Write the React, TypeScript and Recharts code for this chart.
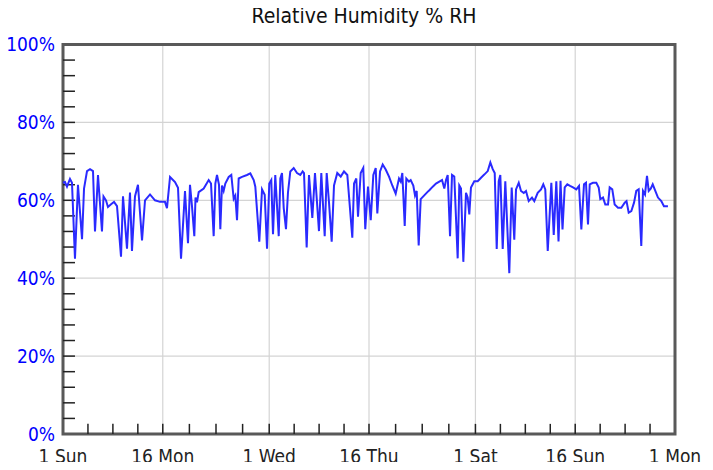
import { LineChart, Line, XAxis, YAxis, CartesianGrid, ReferenceLine, ReferenceArea } from "recharts";

// days since 1 Jul
const dayOffsets = [
  0, 0.3, 0.6, 1.05, 1.35, 1.8, 2.25, 2.86, 3.16, 3.61, 4.06, 4.51, 4.81, 5.26, 5.86, 6.09, 6.46, 6.76, 7.22, 7.67,
  8.12, 8.72, 9.02, 9.62, 10.07, 10.37, 10.82, 11.27, 11.88, 12.33, 13.08, 13.83, 14.58, 15.33, 15.63, 16.09, 16.84, 17.29, 17.74,
  18.34, 18.79, 19.09, 19.39, 19.74, 19.92, 20.14, 20.4, 21.15, 21.9, 22.25, 22.65, 22.9, 23.15, 23.45, 23.65, 23.9, 24.15, 24.4,
  24.91, 25.3, 25.66, 25.9, 26.16, 26.41, 26.91, 27.66, 28.16, 28.67, 28.91, 29.51, 29.92, 30.32, 30.67, 31.01, 31.31, 31.57,
  31.91, 32.43, 32.67, 32.92, 33.18, 33.52, 33.82, 34.17, 34.68, 35.18, 35.67, 36.03, 36.23, 36.63,
  36.98, 37.48, 37.88, 38.48, 38.83, 39.34, 39.64, 39.99, 40.39, 40.74, 41.23, 41.75, 42.24, 42.74, 43.49, 43.75, 44.09, 44.35,
  44.75, 45.14, 45.44, 45.85, 46.26, 46.65, 47.01, 47.25, 47.66, 48.06, 48.51, 49.01, 49.5, 50.01, 50.51, 50.77, 51.01, 51.37,
  51.61, 52.01, 52.27, 52.66, 52.92, 53.17, 53.47, 53.77, 54.27, 54.77,
  55.07, 55.58, 56.07, 56.57, 56.98, 57.32, 57.58, 57.83, 58.18, 58.48, 58.82, 59.33, 59.57, 59.83, 60.18, 60.58, 60.83, 61.08,
  61.33, 61.83, 62.34, 62.84, 63.33, 63.85, 64.24, 64.6, 64.9, 65.2, 65.5, 65.74, 66.1, 66.49, 67.09, 67.45, 67.84, 68.1, 68.51,
  68.85, 69.26, 69.6, 70.01, 70.5, 70.85, 71.36, 71.86, 72.2, 72.5, 72.87,
  73.41, 73.77, 74.16, 74.49, 74.79, 75.09, 75.42, 75.81, 76.22, 76.67, 77.16, 77.57, 77.92, 78.32, 78.62, 78.92, 79.18, 79.67,
  80.17, 80.53, 80.77, 81.18, 81.52, 81.93, 82.18, 82.57, 82.93, 83.43, 83.93, 84.44, 84.71, 85.04, 85.43, 85.84, 86.18, 86.54,
  86.93, 87.19, 87.49, 87.79, 88.05, 88.35, 88.65, 89.04, 89.44, 89.94, 90.34, 90.94,
];

// % RH
const humidity = [
  64.5, 64.7, 63.5, 65.5, 64.5, 45, 64, 50, 63, 67.5, 68, 67.5, 52, 66.5, 52, 61, 60, 58.3, 59, 59.6,
  58.5, 45.5, 61, 47.6, 62, 47, 61, 64, 49.7, 60, 61.5, 60, 59.6, 59.6, 58, 66, 64.7, 63.2, 45,
  62.4, 49, 64, 58.5, 50.8, 60.7, 59.5, 62.1, 63, 65.2, 64.3, 50.8, 64.3, 66.5, 64, 52.6, 63.8, 62.4, 64.3,
  66, 66.5, 60.4, 61.2, 54.9, 65.6, 66, 66.5, 66.9, 65.2, 63.5, 49.4, 62.8, 61.4, 47.6, 64.3, 65.2, 51.3,
  66.5, 50.8, 65.6, 67, 58, 52.6, 62, 67.4, 68.3, 67, 66.5, 67.4, 67, 47.9,
  66.5, 55.5, 67, 52.1, 67, 50.8, 67, 59.4, 49.4, 63.8, 67, 66.1, 67.4, 66.5, 50.4, 64.3, 65.6, 55.8,
  67, 68.3, 52.6, 63.5, 54.9, 66.5, 68.3, 56.6, 67.4, 69.2, 67.9, 66.1, 63.8, 61.7, 65.6, 64.8, 67, 53.4,
  65.6, 64.8, 65.2, 63.8, 61.2, 62.4, 48.4, 60.3, 61.2, 62.1,
  62.6, 63.5, 64.3, 64.8, 65.2, 63, 65.2, 66.5, 50.8, 66.5, 66.1, 45.1, 63.8, 63, 44.2, 61.9, 60.7, 56.4,
  63.3, 64.9, 64.9, 65.8, 66.6, 67.5, 69.7, 68, 67, 47.5, 64.9, 66.5, 47.5, 64.9, 41.3, 63.3, 49.9, 62.8, 64.5,
  62.4, 61.9, 62.4, 59.8, 60.7, 59.8, 61.9, 62.8, 64.1, 62.8, 47,
  64.5, 51.1, 64.9, 49.4, 65, 52.5, 63.3, 64.1, 63.7, 63.3, 62.8, 63.7, 52.5, 64.1, 64.5, 53.8, 64.1, 64.5,
  64.5, 63.3, 60.3, 60.7, 58.9, 58.9, 63.3, 62.8, 58.9, 58.1, 58.1, 59.4, 59.8, 56.8, 57.2, 59.4, 62.4, 62.8,
  48.3, 62.4, 61.5, 66.3, 62.4, 63, 64.1, 62.4, 60.7, 59.8, 58.5, 58.5,
];

const xMajorTicks = [0, 15, 31, 46, 62, 77, 92];
const xTickLabels = ["1 Sun", "16 Mon", "1 Wed", "16 Thu", "1 Sat", "16 Sun", "1 Mon"];
const xMinorTicks = [
  3.75, 7.5, 11.25, 15, 19, 23, 27, 31, 34.75, 38.5, 42.25, 46, 50, 54, 58, 62, 65.75, 69.5, 73.25, 77, 80.75, 84.5, 88.25,
];
const yMajorTicks = [0, 20, 40, 60, 80, 100];
const yMinorTicks = [4, 8, 12, 16, 20, 24, 28, 32, 36, 40, 44, 48, 52, 56, 60, 64, 68, 72, 76, 80, 84, 88, 92, 96];

const data = dayOffsets.map((t, i) => ({ t, rh: humidity[i] }));

const FONT = "'DejaVu Sans Condensed', 'DejaVu Sans', sans-serif";

export default function App() {
  return (
    <div style={{ position: "relative", width: 713, height: 470, margin: -8, fontFamily: FONT, background: "#fff" }}>
      <div
        style={{
          position: "absolute",
          top: 4,
          left: 264,
          width: 200,
          fontSize: 21,
          color: "#111",
          whiteSpace: "nowrap",
          display: "flex",
          justifyContent: "center",
        }}
      >
        Relative Humidity % RH
      </div>
      <LineChart width={713} height={470} data={data} margin={{ top: 44.5, right: 38, bottom: 0, left: 0 }}>
        <CartesianGrid stroke="#d4d4d4" strokeWidth={1.2} />
        <XAxis
          dataKey="t"
          type="number"
          domain={[0, 92]}
          ticks={xMajorTicks}
          interval={0}
          height={36}
          tickSize={0}
          tickMargin={16}
          axisLine={false}
          tickFormatter={(v: number) => xTickLabels[xMajorTicks.indexOf(v)]}
          tick={{ fill: "#222", fontSize: 19, fontFamily: FONT }}
        />
        <YAxis
          type="number"
          domain={[0, 100]}
          ticks={yMajorTicks}
          interval={0}
          width={63}
          tickSize={0}
          tickMargin={8}
          axisLine={false}
          tickFormatter={(v: number) => `${v}%`}
          tick={{ fill: "#0000ff", fontSize: 19, fontFamily: FONT }}
        />
        {xMinorTicks.map((d) => (
          <ReferenceLine
            key={`xt${d}`}
            segment={[{ x: d, y: 0 }, { x: d, y: 2.6 }]}
            stroke="#222"
            strokeWidth={1.5}
            ifOverflow="visible"
          />
        ))}
        {yMinorTicks.map((v) => (
          <ReferenceLine
            key={`yt${v}`}
            segment={[{ x: 0, y: v }, { x: 1.8, y: v }]}
            stroke="#222"
            strokeWidth={1.5}
            ifOverflow="visible"
          />
        ))}
        <Line
          type="linear"
          dataKey="rh"
          dot={false}
          stroke="#2a2aff"
          strokeWidth={2}
          isAnimationActive={false}
        />
        <ReferenceArea
          x1={0}
          x2={92}
          y1={0}
          y2={100}
          fill="none"
          stroke="#595959"
          strokeWidth={3}
          ifOverflow="visible"
        />
      </LineChart>
    </div>
  );
}
